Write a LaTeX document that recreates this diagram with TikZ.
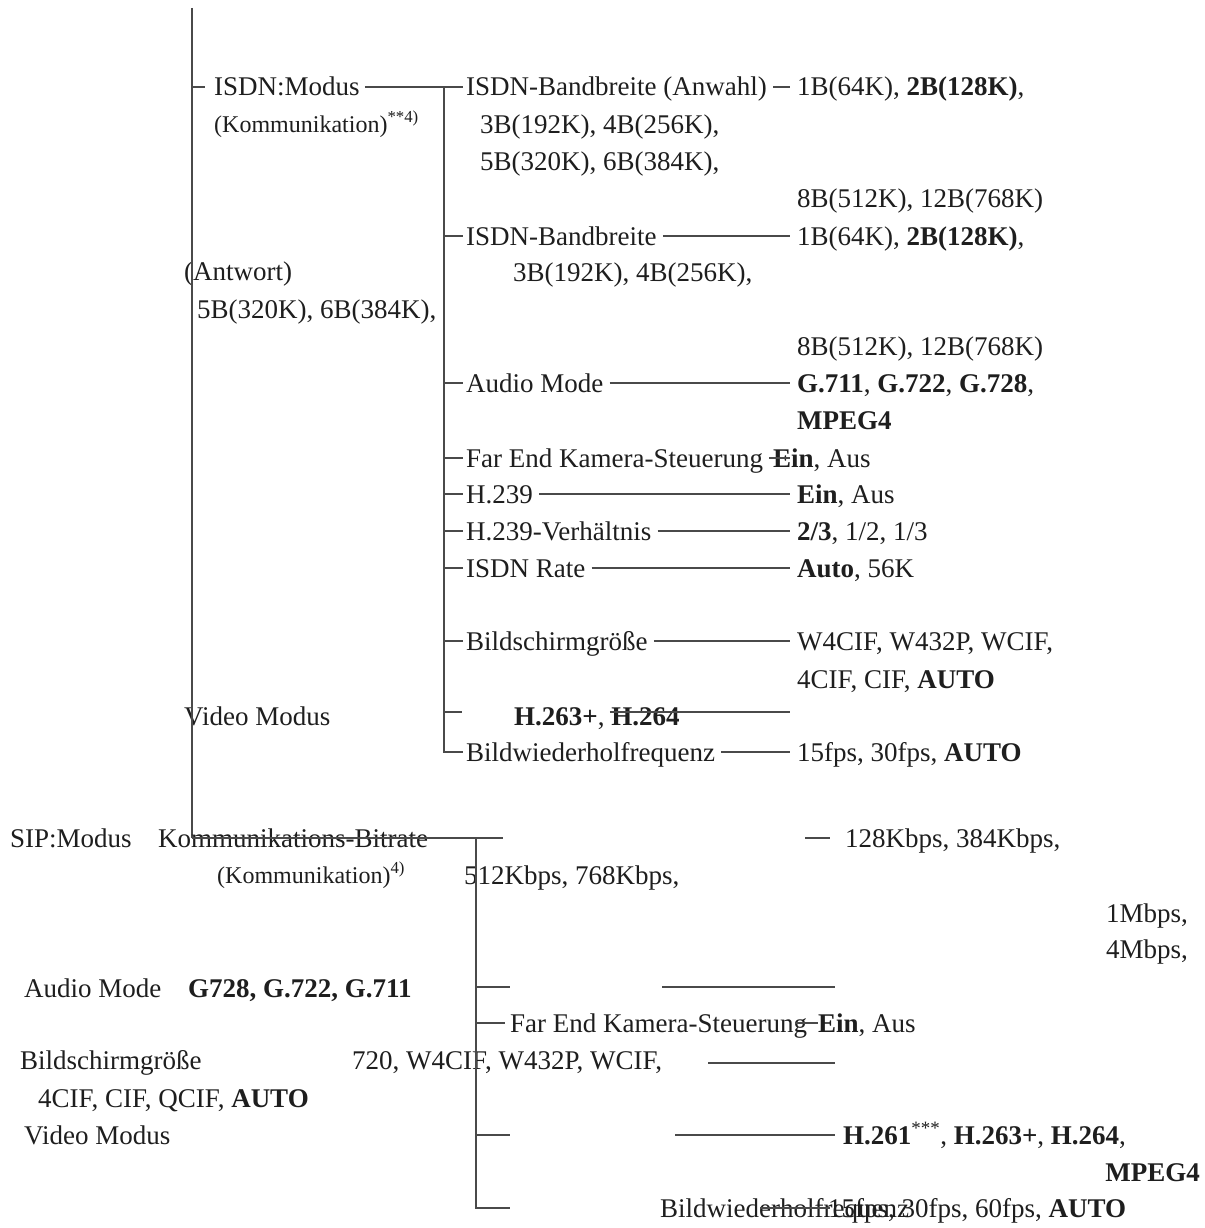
\documentclass[tikz,border=0pt]{standalone}
\usepackage{fontspec}
\setmainfont{Liberation Serif}
\definecolor{txt}{HTML}{1E1E1E}
\definecolor{lin}{HTML}{4A4A4A}
\begin{document}
\begin{tikzpicture}[x=1pt,y=-1pt,
  t/.style={anchor=west,inner sep=0pt,text height=18pt,text depth=0pt,font=\fontsize{27}{30}\selectfont,text=txt},
  te/.style={t,anchor=east},
  s/.style={t,text height=16pt,font=\fontsize{24}{27}\selectfont},
  ln/.style={draw=lin,line width=1.7pt}]
\fill[white] (0,0) rectangle (1204,1228);
\useasboundingbox (0,0) rectangle (1204,1228);

% ---------- upper tree: labels ----------
\node[t] (isdn) at (214,87) {ISDN:Modus};
\node[s] (komm1) at (214,124) {(Kommunikation)\textsuperscript{**4)}};
\node[t] (antw) at (184,271) {(Antwort)};
\node[t] (l5b) at (197,309) {5B(320K), 6B(384K),};
\node[t] (vid1) at (184,716) {Video Modus};

\node[t] (bwA) at (466,87) {ISDN-Bandbreite (Anwahl)};
\node[t] (m3b1) at (480,124) {3B(192K), 4B(256K),};
\node[t] (m5b1) at (480,161) {5B(320K), 6B(384K),};
\node[t] (bw) at (466,236) {ISDN-Bandbreite};
\node[t] (m3b2) at (513,272) {3B(192K), 4B(256K),};
\node[t] (aud) at (466,383) {Audio Mode};
\node[t] (fec) at (466,458) {Far End Kamera-Steuerung};
\node[t] (h239) at (466,494) {H.239};
\node[t] (h239v) at (466,531) {H.239-Verhältnis};
\node[t] (rate) at (466,568) {ISDN Rate};
\node[t] (bsg) at (466,641) {Bildschirmgröße};
\node[t] (h263) at (514,716) {\textbf{H.263+}, \textbf{H.264}};
\node[t] (bwf) at (466,752) {Bildwiederholfrequenz};

% ---------- upper tree: values ----------
\node[t] (v1) at (797,87) {1B(64K), \textbf{2B(128K)},};
\node[t] (v1b) at (797,198) {8B(512K), 12B(768K)};
\node[t] (v2) at (797,236) {1B(64K), \textbf{2B(128K)},};
\node[t] (v2b) at (797,346) {8B(512K), 12B(768K)};
\node[t] (v3) at (797,383) {\textbf{G.711}, \textbf{G.722}, \textbf{G.728},};
\node[t] (v3b) at (797,420) {\textbf{MPEG4}};
\node[t] (v4) at (773,458) {\textbf{Ein}, Aus};
\node[t] (v5) at (797,494) {\textbf{Ein}, Aus};
\node[t] (v6) at (797,531) {\textbf{2/3}, 1/2, 1/3};
\node[t] (v7) at (797,568) {\textbf{Auto}, 56K};
\node[t] (v8) at (797,641) {W4CIF, W432P, WCIF,};
\node[t] (v8b) at (797,679) {4CIF, CIF, \textbf{AUTO}};
\node[t] (v9) at (797,752) {15fps, 30fps, \textbf{AUTO}};

% ---------- upper tree: coordinates ----------
\coordinate (trTop) at (192,8);
\coordinate (trIsdn) at (192,87);
\coordinate (trBot) at (192,838);
\coordinate (v2Top) at (444,87);
\coordinate (v2Bot) at (444,752);
\coordinate (rEnd) at (790,0);

% trunk and connectors
\draw[ln] (trTop) -- (trBot);
\draw[ln] (trIsdn) -- ([xshift=-9pt]isdn.west);
\draw[ln] ([xshift=5pt]isdn.east) -- ([xshift=-3pt]bwA.west);
\draw[ln] (v2Top) -- (v2Bot) -- ([xshift=-3pt]bwf.west);
\foreach \n in {bw,aud,fec,h239,h239v,rate,bsg}
  \draw[ln] (v2Top |- \n.west) -- ([xshift=-3pt]\n.west);
\coordinate (hTick) at (462,712);
\draw[ln] (v2Top |- hTick) -- (hTick);
\coordinate (hEndR) at (790,712);
\draw[ln] ([xshift=-70pt,yshift=4pt]h263.east) -- (hEndR);
\foreach \n/\v in {bwA/v1,bw/v2,aud/v3,fec/v4,h239/v5,h239v/v6,rate/v7,bsg/v8,bwf/v9}
  \draw[ln] ([xshift=6pt]\n.east) -- (rEnd |- \v.west);

% ---------- lower tree ----------
\node[t] (sip) at (10,838) {SIP:Modus};
\node[t] (kbr) at (158,838) {Kommunikations-Bitrate};
\node[s] (komm2) at (217,875) {(Kommunikation)\textsuperscript{4)}};
\node[t] (k512) at (464,875) {512Kbps, 768Kbps,};
\node[t] (k128) at (845,838) {128Kbps, 384Kbps,};
\node[te] (m1) at (1188,913) {1Mbps,};
\node[te] (m4) at (1188,949) {4Mbps,};
\node[t] (aud2) at (24,988) {Audio Mode};
\node[t] (g728) at (188,988) {\textbf{G728, G.722, G.711}};
\node[t] (fec2) at (510,1023) {Far End Kamera-Steuerung};
\node[t] (ein2) at (818,1023) {\textbf{Ein}, Aus};
\node[t] (bsg2) at (20,1060) {Bildschirmgröße};
\node[t] (w720) at (352,1060) {720, W4CIF, W432P, WCIF,};
\node[t] (cif2) at (38,1098) {4CIF, CIF, QCIF, \textbf{AUTO}};
\node[t] (vid2) at (24,1135) {Video Modus};
\node[t] (h261) at (843,1135) {\textbf{H.261}\textsuperscript{***}, \textbf{H.263+}, \textbf{H.264},};
\node[te] (mpeg2) at (1200,1172) {\textbf{MPEG4}};
\node[t] (bwf2) at (660,1208) {Bildwiederholfrequenz};
\node[t] (fps2) at (828,1208) {15fps, 30fps, 60fps, \textbf{AUTO}};

\coordinate (hR) at (503,838);
\coordinate (v3Top) at (476,838);
\coordinate (v3Bot) at (476,1208);
\draw[ln] (trBot) -- (hR);
\draw[ln] (v3Top) -- (v3Bot) -- (510,1208);
\coordinate (bA) at (510,987);
\coordinate (bB) at (505,1023);
\coordinate (bC) at (510,1135);
\draw[ln] (v3Top |- bA) -- (bA);
\draw[ln] (v3Top |- bB) -- (bB);
\draw[ln] (v3Top |- bC) -- (bC);
% free-standing strokes
\coordinate (d1a) at (805,838); \coordinate (d1b) at (830,838);
\draw[ln] (d1a) -- (d1b);
\coordinate (d2a) at (662,987); \coordinate (d2b) at (835,987);
\draw[ln] (d2a) -- (d2b);
\coordinate (d3a) at (795,1023);
\draw[ln] (d3a) -- (ein2.west);
\coordinate (d4a) at (708,1063); \coordinate (d4b) at (835,1063);
\draw[ln] (d4a) -- (d4b);
\coordinate (d5a) at (675,1135);
\draw[ln] (d5a) -- ([xshift=-8pt]h261.west);
\coordinate (d6a) at (760,1208); \coordinate (d6b) at (830,1208);
\draw[ln] (d6a) -- (d6b);
\end{tikzpicture}
\end{document}
